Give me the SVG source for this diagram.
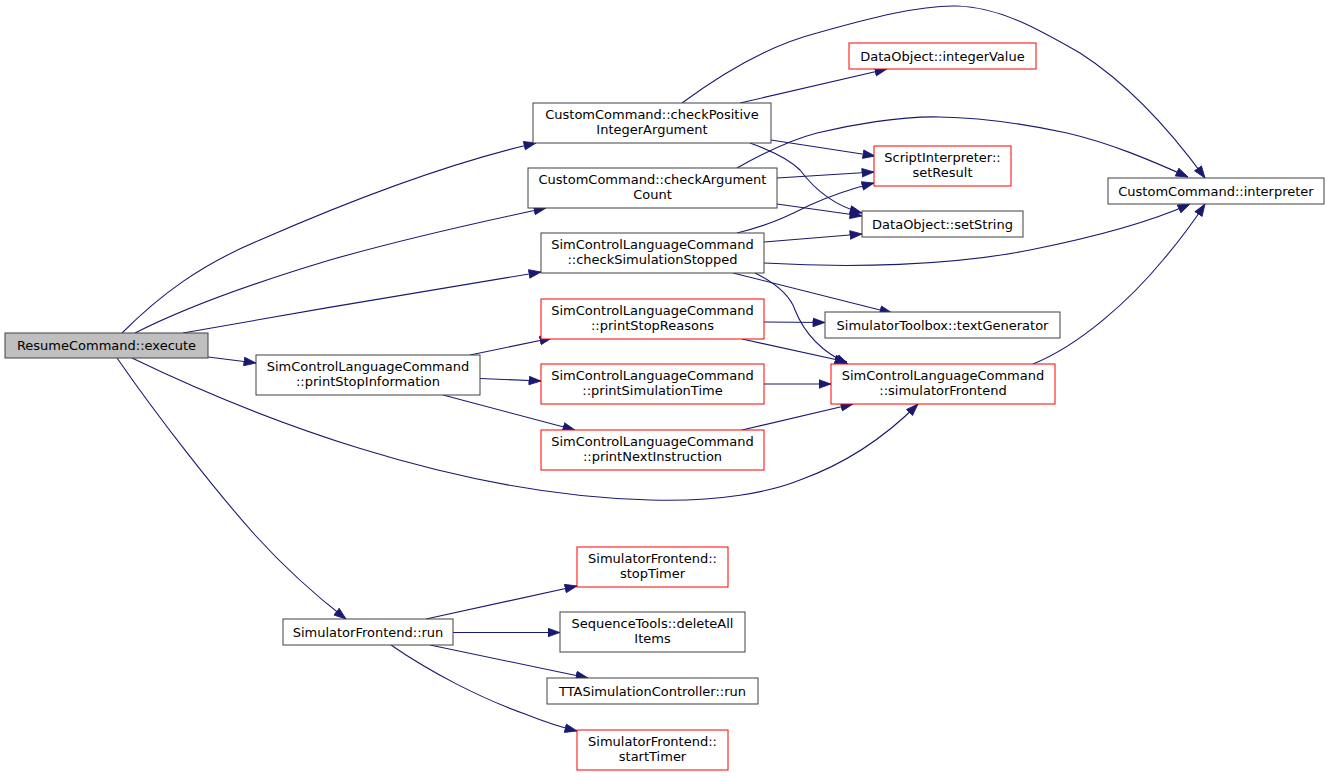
<svg xmlns="http://www.w3.org/2000/svg" width="1329" height="776" viewBox="0 0 1329 776">
<style>
.n rect{fill:#fff;stroke:#404040;stroke-width:1}
.n.r rect{stroke:#ff0000}
.n.root rect{fill:#bfbfbf}
.n text{font-family:"DejaVu Sans",sans-serif;font-size:13px;fill:#000;text-anchor:middle}
.e path{fill:none;stroke:#191970;stroke-width:1.1;marker-end:url(#ah)}
</style>
<defs>
<marker id="ah" markerUnits="userSpaceOnUse" viewBox="0 -5 13 10" refX="12.5" refY="0" markerWidth="13" markerHeight="10" orient="auto">
<path d="M0.5,-4.3 L12.5,0 L0.5,4.3 z" fill="#191970" stroke="#191970" stroke-width="0.8"/>
</marker>
</defs>
<rect width="1329" height="776" fill="#fff"/>
<g id="connectors" class="e">
<path d="M122,333 C160,295 200,265 260,240 C340,205 440,165 536,143"/>
<path d="M135,333 C200,300 280,275 330,260 C400,240 480,222 546,208"/>
<path d="M183,333 C300,312 430,290 541,272"/>
<path d="M208,357 L256,363"/>
<path d="M132,358 C250,415 450,495 650,500 C720,502 770,492 800,480 C850,462 890,432 918,404"/>
<path d="M117,358 C160,420 215,490 255,535 C285,568 315,595 346,619"/>
<path d="M682,103 C720,75 770,45 817,33 C870,18 920,5 957,6 C1000,7 1040,30 1080,53 C1130,85 1170,130 1205,178"/>
<path d="M740,103 L887,69"/>
<path d="M771,140 L875,156"/>
<path d="M750,143 C775,152 790,160 800,170 C815,190 835,206 862,213"/>
<path d="M737,168 C760,155 790,140 817,133 C850,125 900,116 940,117 C990,118 1030,125 1067,133 C1110,143 1150,160 1188,177"/>
<path d="M777,178 L874,172"/>
<path d="M777,204 L862,216"/>
<path d="M737,233 C770,225 790,215 810,205 C830,196 850,189 874,183"/>
<path d="M764,242 L862,234"/>
<path d="M764,263 C850,268 950,266 1030,250 C1100,236 1150,222 1190,204"/>
<path d="M733,273 L892,313"/>
<path d="M755,273 C775,283 790,295 795,310 C805,335 822,352 848,364"/>
<path d="M764,322 L825,322.5"/>
<path d="M742,339 L847,362"/>
<path d="M764,384 L831,384"/>
<path d="M742,430 L853,404"/>
<path d="M1033,364 C1080,345 1130,300 1163,260 C1180,240 1194,221 1205,204"/>
<path d="M470,355 L552,338"/>
<path d="M480,378.5 L541,381"/>
<path d="M443,395 L575,430"/>
<path d="M426,619 L577,586"/>
<path d="M453,632.5 L560,632.5"/>
<path d="M430,645 L588,678"/>
<path d="M391,645 C430,672 480,698 525,714 C545,722 560,727 577,731"/>
</g>
<g id="ResumeCommand_execute" class="n root"><rect x="5" y="333" width="203" height="25"/><text x="106.5" y="350">ResumeCommand::execute</text></g>
<g id="printStopInformation" class="n"><rect x="256" y="355" width="224" height="40"/><text x="368" y="371">SimControlLanguageCommand</text><text x="368" y="386">::printStopInformation</text></g>
<g id="checkPositiveIntegerArgument" class="n"><rect x="533" y="103" width="238" height="40"/><text x="652" y="119">CustomCommand::checkPositive</text><text x="652" y="134">IntegerArgument</text></g>
<g id="checkArgumentCount" class="n"><rect x="528" y="168" width="249" height="40"/><text x="652.5" y="184">CustomCommand::checkArgument</text><text x="652.5" y="199">Count</text></g>
<g id="checkSimulationStopped" class="n"><rect x="541" y="233" width="223" height="40"/><text x="652.5" y="249">SimControlLanguageCommand</text><text x="652.5" y="264">::checkSimulationStopped</text></g>
<g id="printStopReasons" class="n r"><rect x="541" y="299" width="223" height="40"/><text x="652.5" y="315">SimControlLanguageCommand</text><text x="652.5" y="330">::printStopReasons</text></g>
<g id="printSimulationTime" class="n r"><rect x="541" y="364" width="223" height="40"/><text x="652.5" y="380">SimControlLanguageCommand</text><text x="652.5" y="395">::printSimulationTime</text></g>
<g id="printNextInstruction" class="n r"><rect x="541" y="430" width="223" height="40"/><text x="652.5" y="446">SimControlLanguageCommand</text><text x="652.5" y="461">::printNextInstruction</text></g>
<g id="integerValue" class="n r"><rect x="849" y="43" width="187" height="26"/><text x="942.5" y="60.5">DataObject::integerValue</text></g>
<g id="setResult" class="n r"><rect x="874" y="146" width="137" height="40"/><text x="942.5" y="162">ScriptInterpreter::</text><text x="942.5" y="177">setResult</text></g>
<g id="setString" class="n"><rect x="862" y="211" width="161" height="26"/><text x="942.5" y="228.5">DataObject::setString</text></g>
<g id="interpreter" class="n"><rect x="1108" y="178" width="216" height="26"/><text x="1216" y="195.5">CustomCommand::interpreter</text></g>
<g id="textGenerator" class="n"><rect x="825" y="312" width="235" height="26"/><text x="942.5" y="329.5">SimulatorToolbox::textGenerator</text></g>
<g id="simulatorFrontend" class="n r"><rect x="831" y="364" width="224" height="40"/><text x="943" y="380">SimControlLanguageCommand</text><text x="943" y="395">::simulatorFrontend</text></g>
<g id="SimulatorFrontend_run" class="n"><rect x="283" y="619" width="170" height="26"/><text x="368" y="636.5">SimulatorFrontend::run</text></g>
<g id="stopTimer" class="n r"><rect x="577" y="547" width="151" height="40"/><text x="652.5" y="563">SimulatorFrontend::</text><text x="652.5" y="578">stopTimer</text></g>
<g id="deleteAllItems" class="n"><rect x="560" y="612" width="185" height="40"/><text x="652.5" y="628">SequenceTools::deleteAll</text><text x="652.5" y="643">Items</text></g>
<g id="TTASimulationController_run" class="n"><rect x="547" y="678" width="211" height="26"/><text x="652.5" y="695.5">TTASimulationController::run</text></g>
<g id="startTimer" class="n r"><rect x="577" y="730" width="151" height="40"/><text x="652.5" y="746">SimulatorFrontend::</text><text x="652.5" y="761">startTimer</text></g>
</svg>
